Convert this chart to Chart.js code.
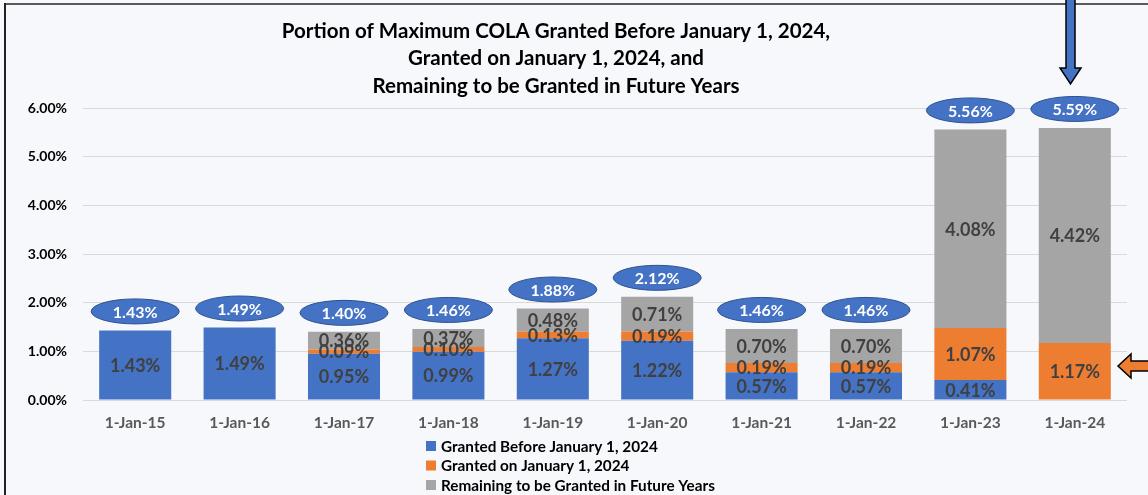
<!DOCTYPE html>
<html>
<head>
<meta charset="utf-8">
<script src="https://cdn.jsdelivr.net/npm/chart.js@4/dist/chart.umd.min.js"></script>
<style>
  html, body { margin: 0; padding: 0; background: #f7f8fc; }
  #wrap { width: 1148px; height: 495px; position: relative; }
</style>
</head>
<body>
<div id="wrap"><canvas id="c" width="1148" height="495"></canvas></div>
<script>
const categories = ['1-Jan-15','1-Jan-16','1-Jan-17','1-Jan-18','1-Jan-19','1-Jan-20','1-Jan-21','1-Jan-22','1-Jan-23','1-Jan-24'];
const grantedBefore = [1.43, 1.49, 0.95, 0.99, 1.27, 1.22, 0.57, 0.57, 0.41, 0];
const grantedOn     = [0, 0, 0.09, 0.10, 0.13, 0.19, 0.19, 0.19, 1.07, 1.17];
const remaining     = [0, 0, 0.36, 0.37, 0.48, 0.71, 0.70, 0.70, 4.08, 4.42];
const totals        = [1.43, 1.49, 1.40, 1.46, 1.88, 2.12, 1.46, 1.46, 5.56, 5.59];
const seriesNames = ['Granted Before January 1, 2024', 'Granted on January 1, 2024', 'Remaining to be Granted in Future Years'];
const titleLines = ['Portion of Maximum COLA Granted Before January 1, 2024,', 'Granted on January 1, 2024, and', 'Remaining to be Granted in Future Years'];
const yTicks = [0, 1, 2, 3, 4, 5, 6];

const FONT = 'Lato, "Open Sans", sans-serif';
const colors = ['#4472C4', '#ED7D31', '#A5A5A5'];

const decor = {
  id: 'decor',
  beforeDraw(chart) {
    const ctx = chart.ctx;
    ctx.save();
    ctx.fillStyle = '#f7f8fc';
    ctx.fillRect(0, 0, chart.width, chart.height);
    ctx.restore();
  },
  afterDatasetsDraw(chart) {
    const ctx = chart.ctx;
    ctx.save();
    ctx.font = 'bold 18px ' + FONT;
    ctx.fillStyle = '#404040';
    ctx.textAlign = 'center';
    ctx.textBaseline = 'middle';
    chart.data.datasets.forEach((ds, di) => {
      const meta = chart.getDatasetMeta(di);
      meta.data.forEach((el, i) => {
        const v = ds.data[i];
        if (!v) return;
        ctx.fillText(v.toFixed(2) + '%', el.x, (el.y + el.base) / 2 + 1);
      });
    });
    const ys = chart.scales.y;
    const xs = chart.scales.x;
    totals.forEach((t, i) => {
      const cx = xs.getPixelForValue(i);
      const cy = ys.getPixelForValue(t) - 19;
      ctx.beginPath();
      ctx.ellipse(cx, cy, 44, 12.5, 0, 0, Math.PI * 2);
      ctx.fillStyle = '#4472C4';
      ctx.fill();
      ctx.lineWidth = 1;
      ctx.strokeStyle = '#2F528F';
      ctx.stroke();
      ctx.fillStyle = '#ffffff';
      ctx.font = 'bold 16px ' + FONT;
      ctx.fillText(t.toFixed(2) + '%', cx, cy + 1);
    });
    ctx.restore();
  },
  afterDraw(chart) {
    const ctx = chart.ctx;
    ctx.save();
    ctx.strokeStyle = '#5a5a5a';
    ctx.lineWidth = 2;
    ctx.beginPath(); ctx.moveTo(4, 4); ctx.lineTo(1148, 4); ctx.stroke();
    ctx.strokeStyle = '#222';
    ctx.beginPath(); ctx.moveTo(5, 3); ctx.lineTo(5, 495); ctx.stroke();
    ctx.fillStyle = '#000';
    ctx.font = 'bold 20.5px ' + FONT;
    ctx.textAlign = 'center';
    ctx.textBaseline = 'middle';
    titleLines.forEach((l, i) => ctx.fillText(l, 556, 31 + i * 27.5));
    ctx.textAlign = 'left';
    ctx.font = 'bold 15.3px ' + FONT;
    seriesNames.forEach((n, i) => {
      const y = 446 + i * 19.5;
      ctx.fillStyle = colors[i];
      ctx.fillRect(426, y - 5, 10, 10);
      ctx.fillStyle = '#000';
      ctx.fillText(n, 441, y + 1);
    });
    ctx.lineWidth = 1.5;
    ctx.strokeStyle = '#000';
    ctx.fillStyle = '#4472C4';
    ctx.beginPath();
    ctx.moveTo(1066, -2); ctx.lineTo(1075, -2); ctx.lineTo(1075, 68);
    ctx.lineTo(1081, 68); ctx.lineTo(1070.5, 84); ctx.lineTo(1060, 68);
    ctx.lineTo(1066, 68); ctx.closePath();
    ctx.fill(); ctx.stroke();
    ctx.fillStyle = '#ED7D31';
    ctx.beginPath();
    ctx.moveTo(1118, 366); ctx.lineTo(1131, 354); ctx.lineTo(1131, 361);
    ctx.lineTo(1150, 361); ctx.lineTo(1150, 371); ctx.lineTo(1131, 371);
    ctx.lineTo(1131, 378); ctx.closePath();
    ctx.fill(); ctx.stroke();
    ctx.restore();
  }
};

new Chart(document.getElementById('c'), {
  type: 'bar',
  data: {
    labels: categories,
    datasets: [
      { label: seriesNames[0], data: grantedBefore, backgroundColor: colors[0] },
      { label: seriesNames[1], data: grantedOn, backgroundColor: colors[1] },
      { label: seriesNames[2], data: remaining, backgroundColor: colors[2] }
    ]
  },
  options: {
    responsive: false,
    animation: false,
    devicePixelRatio: 1,
    layout: { padding: { top: 108, right: 21, left: 0, bottom: 0 } },
    datasets: { bar: { categoryPercentage: 1, barPercentage: 0.69 } },
    plugins: { legend: { display: false }, tooltip: { enabled: false }, title: { display: false } },
    scales: {
      x: {
        stacked: true,
        grid: { display: false, drawTicks: false },
        border: { display: false },
        ticks: { color: '#595959', font: { family: FONT, size: 15.5, weight: 'bold' }, padding: 14, maxRotation: 0 },
        afterFit(s) { s.height = 95; }
      },
      y: {
        stacked: true,
        min: 0, max: 6,
        afterBuildTicks(s) { s.ticks = yTicks.map(v => ({ value: v })); },
        grid: { color: '#d9d9d9', drawTicks: false },
        border: { display: false },
        ticks: { color: '#000', font: { family: FONT, size: 14, weight: 'bold' }, padding: 16,
                 callback: v => v.toFixed(2) + '%' },
        afterFit(s) { s.width = 83; }
      }
    }
  },
  plugins: [decor]
});
</script>
</body>
</html>
